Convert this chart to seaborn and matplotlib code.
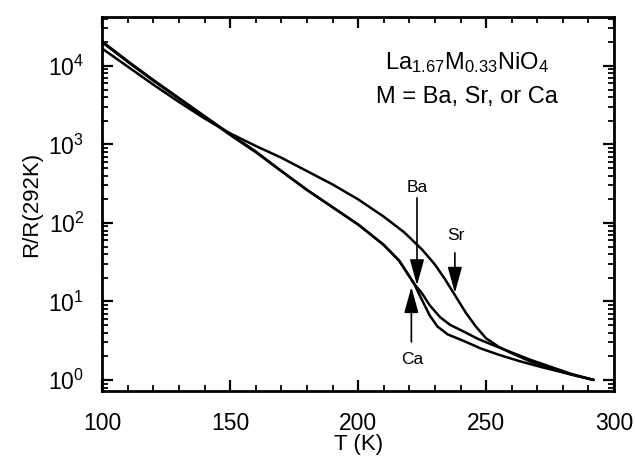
import numpy as np
import pandas as pd
import matplotlib
matplotlib.use("Agg")
import matplotlib.pyplot as plt
import seaborn as sns
from matplotlib.ticker import LogLocator, MultipleLocator, NullFormatter

# ---------------- data ----------------
T_sr = [100, 110, 120, 130, 140, 150, 160, 170, 180, 190, 200, 210, 218, 225,
        230, 234, 238, 242, 246, 250, 255, 260, 267, 275, 283, 292]
logR_sr = [4.22, 3.99, 3.76, 3.54, 3.33, 3.14, 2.98, 2.83, 2.66, 2.49, 2.30,
           2.08, 1.88, 1.66, 1.47, 1.28, 1.07, 0.86, 0.68, 0.53, 0.42, 0.34,
           0.24, 0.15, 0.07, 0.0]

T_ba = [100, 110, 120, 130, 140, 150, 160, 170, 180, 190, 200, 210, 216, 222,
        225, 228, 232, 236, 241, 247, 253, 260, 267, 275, 283, 292]
logR_ba = [4.31, 4.06, 3.82, 3.59, 3.36, 3.13, 2.91, 2.66, 2.42, 2.20, 1.98,
           1.72, 1.52, 1.22, 1.10, 0.95, 0.80, 0.70, 0.62, 0.52, 0.44, 0.35,
           0.26, 0.17, 0.08, 0.0]

T_ca = [100, 110, 120, 130, 140, 150, 160, 170, 180, 190, 200, 210, 216, 222,
        224, 226, 228, 231, 235, 241, 248, 255, 263, 272, 282, 292]
logR_ca = [4.30, 4.05, 3.81, 3.58, 3.35, 3.12, 2.90, 2.66, 2.42, 2.20, 1.98,
           1.72, 1.52, 1.22, 1.08, 0.95, 0.82, 0.68, 0.58, 0.50, 0.40, 0.32,
           0.24, 0.16, 0.08, 0.0]

x_ticks = [100, 150, 200, 250, 300]
formula = "La$_{1.67}$M$_{0.33}$NiO$_4$"
subtitle = "M = Ba, Sr, or Ca"

df = pd.concat([
    pd.DataFrame({"T": T_sr, "R": 10 ** np.array(logR_sr), "M": "Sr"}),
    pd.DataFrame({"T": T_ba, "R": 10 ** np.array(logR_ba), "M": "Ba"}),
    pd.DataFrame({"T": T_ca, "R": 10 ** np.array(logR_ca), "M": "Ca"}),
])

# ---------------- style ----------------
sns.set_style("ticks")
plt.rcParams["font.family"] = ["Liberation Sans", "DejaVu Sans"]
plt.rcParams["mathtext.fontset"] = "custom"
plt.rcParams["mathtext.rm"] = "Liberation Sans"
plt.rcParams["mathtext.it"] = "Liberation Sans:italic"
plt.rcParams["mathtext.bf"] = "Liberation Sans:bold"
plt.rcParams["text.color"] = "black"
plt.rcParams["axes.labelcolor"] = "black"

fig = plt.figure(figsize=(6.35, 4.58), dpi=100)
ax = fig.add_axes([0.161, 0.146, 0.806, 0.817])

sns.lineplot(data=df, x="T", y="R", hue="M", units="M", estimator=None,
             sort=False, palette={"Sr": "black", "Ba": "black", "Ca": "black"},
             linewidth=1.8, legend=False, ax=ax)

ax.set_yscale("log")
ax.set_xlim(100, 300)
ax.set_ylim(0.72, 4.2e4)
ax.set_xticks(x_ticks)
ax.set_xticklabels([str(v) for v in x_ticks])
ax.xaxis.set_minor_locator(MultipleLocator(10))
ax.yaxis.set_major_locator(LogLocator(base=10, numticks=10))
ax.yaxis.set_minor_locator(LogLocator(base=10, subs=np.arange(2, 10), numticks=20))
ax.yaxis.set_minor_formatter(NullFormatter())

for s in ax.spines.values():
    s.set_linewidth(2.0)
    s.set_color("black")
ax.tick_params(which="both", direction="in", top=True, right=True,
               colors="black", labelsize=16.5)
ax.tick_params(which="major", length=8, width=1.6)
ax.tick_params(which="minor", length=4, width=1.3)
ax.tick_params(axis="x", pad=15)
ax.tick_params(axis="y", pad=13)

ax.set_xlabel("T (K)", fontsize=16, labelpad=-1)
ax.set_ylabel("R/R(292K)", fontsize=16, labelpad=4)

ax.text(0.713, 0.877, formula, transform=ax.transAxes, ha="center",
        va="center", fontsize=17)
ax.text(0.713, 0.786, subtitle, transform=ax.transAxes, ha="center",
        va="center", fontsize=17)

arrow = dict(arrowstyle="-|>,head_length=0.8,head_width=0.22", color="black",
             lw=1.2, mutation_scale=20, shrinkA=0, shrinkB=0)
ax.annotate("", xy=(223, 16.0), xytext=(223, 208), arrowprops=arrow)
ax.text(223, 280, "Ba", ha="center", va="center", fontsize=12.5)
ax.annotate("", xy=(237.8, 12.8), xytext=(237.8, 41.5), arrowprops=arrow)
ax.text(238, 70, "Sr", ha="center", va="center", fontsize=12.5)
ax.annotate("", xy=(220.8, 15.3), xytext=(220.8, 3.05), arrowprops=arrow)
ax.text(221, 1.8, "Ca", ha="center", va="center", fontsize=12.5)

fig.savefig("out.png", dpi=100)
